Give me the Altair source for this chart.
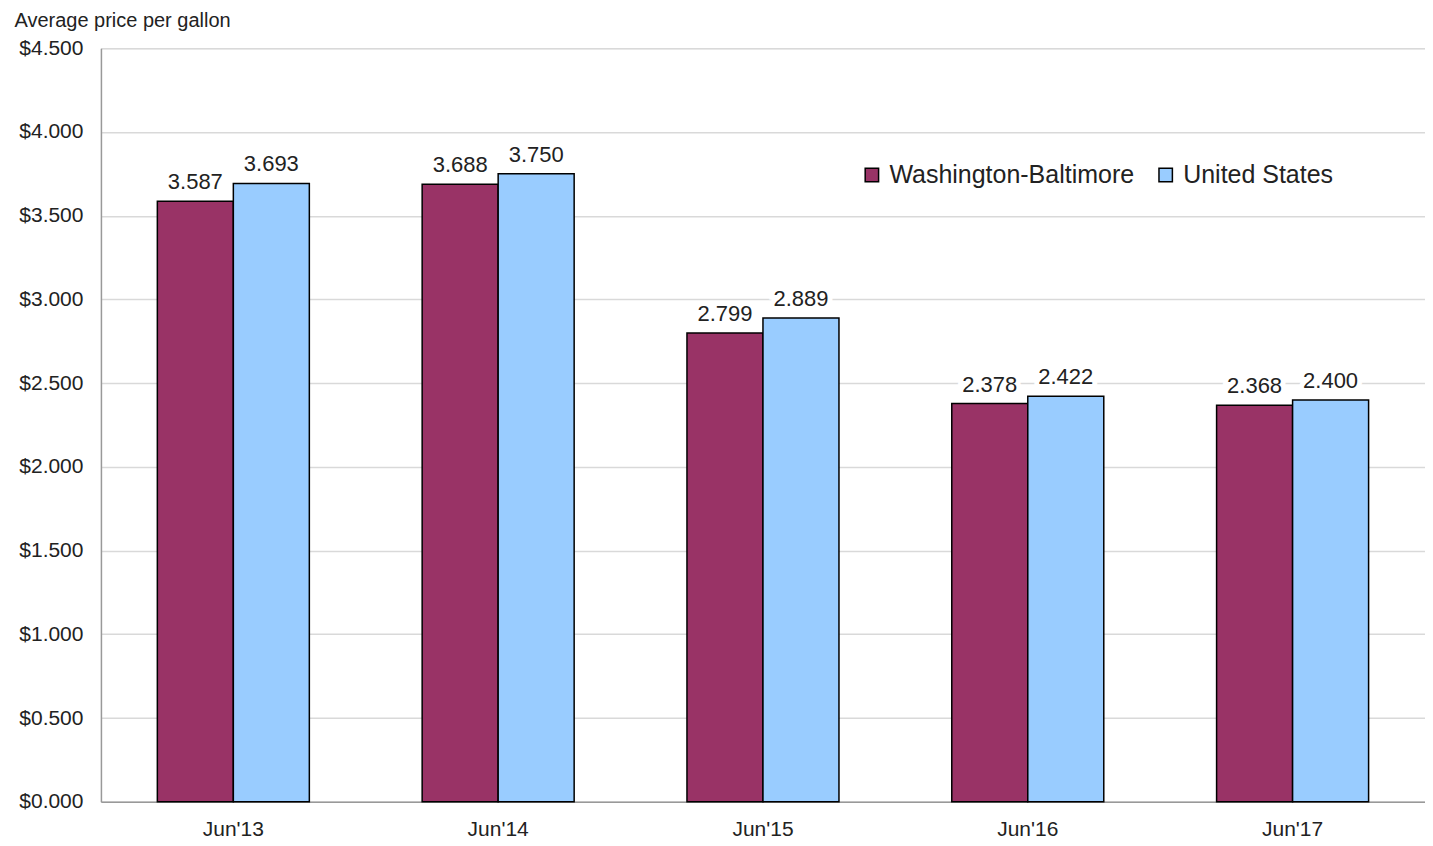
import altair as alt
import pandas as pd

periods = ["Jun'13", "Jun'14", "Jun'15", "Jun'16", "Jun'17"]
series = ["Washington-Baltimore", "United States"]
wash_balt = [3.587, 3.688, 2.799, 2.378, 2.368]
united_states = [3.693, 3.750, 2.889, 2.422, 2.400]
colors = ["#993366", "#99CCFF"]
y_ticks = [0, 0.5, 1.0, 1.5, 2.0, 2.5, 3.0, 3.5, 4.0, 4.5]

rows = []
for p, a, b in zip(periods, wash_balt, united_states):
    rows.append({"period": p, "series": series[0], "value": a, "label": f"{a:.3f}"})
    rows.append({"period": p, "series": series[1], "value": b, "label": f"{b:.3f}"})
df = pd.DataFrame(rows)

FONT = "Liberation Sans"

x_enc = alt.X("period:N", sort=periods,
              scale=alt.Scale(paddingInner=0.426, paddingOuter=0.213),
              axis=alt.Axis(title=None, labelAngle=0, labelFontSize=21, labelFont=FONT,
                            labelColor="#222222", ticks=False, labelPadding=17,
                            domainColor="#999999", domainWidth=1.5, grid=False))
xo_enc = alt.XOffset("series:N", sort=series, scale=alt.Scale(paddingInner=0, paddingOuter=0))
y_enc = alt.Y("value:Q", scale=alt.Scale(domain=[0, 4.5], nice=False),
              axis=alt.Axis(values=y_ticks, format="$.3f", title="Average price per gallon",
                            titleAngle=0, titleAlign="left", titleBaseline="middle",
                            titleX=-87, titleY=-28, titleFontSize=20, titleFontWeight="normal",
                            titleFont=FONT, titleColor="#222222",
                            labelFontSize=21, labelFont=FONT, labelColor="#222222",
                            ticks=False, labelPadding=18, domainColor="#999999", domainWidth=1.5,
                            gridColor="#d9d9d9", gridWidth=1.5))

base = alt.Chart(df).encode(x=x_enc, xOffset=xo_enc, y=y_enc)

bars = base.mark_bar(stroke="black", strokeWidth=1.5).encode(
    color=alt.Color("series:N", sort=series,
                    scale=alt.Scale(domain=series, range=colors),
                    legend=alt.Legend(title=None, orient="none", legendX=759, legendY=114,
                                      direction="horizontal", symbolType="square",
                                      symbolSize=180, symbolStrokeColor="black",
                                      symbolStrokeWidth=1.5, labelFontSize=25, labelFont=FONT,
                                      labelColor="#222222", columnPadding=18, labelOffset=5,
                                      labelLimit=0, padding=0))
)

halo = base.mark_text(fontSize=22, font=FONT, baseline="alphabetic", dy=-12,
                      stroke="white", strokeWidth=10, fill="white").encode(text="label:N")
labels = base.mark_text(fontSize=22, font=FONT, baseline="alphabetic", dy=-12,
                        color="#222222").encode(text="label:N")

chart = alt.layer(bars, halo, labels).properties(
    width=1325, height=754,
    autosize=alt.AutoSizeParams(type="none"),
    padding={"left": 93, "top": 40, "right": 0, "bottom": 38},
).configure_view(stroke="#bfbfbf", strokeWidth=1.5).configure(background="white")

chart.save("out.html", embed_options={"renderer": "svg", "actions": False})
